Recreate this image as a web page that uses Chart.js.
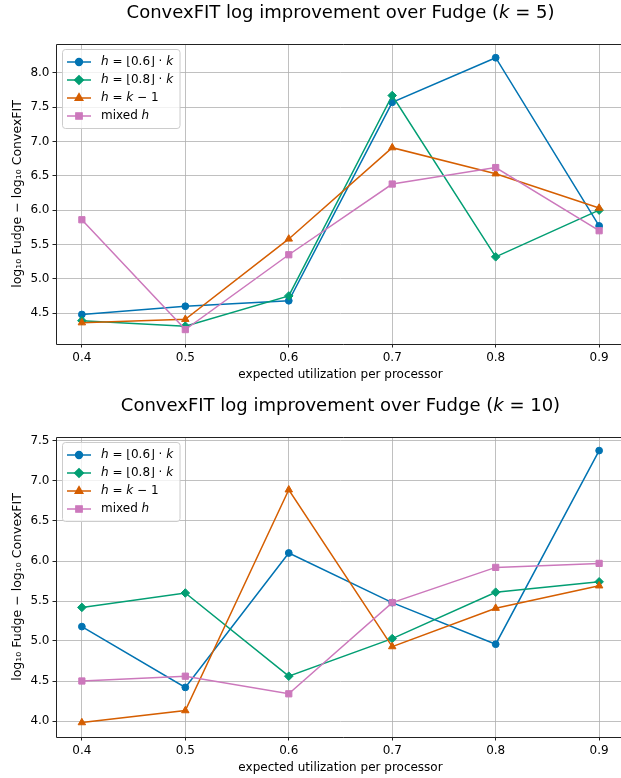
<!DOCTYPE html>
<html><head><meta charset="utf-8">
<script src="https://cdn.jsdelivr.net/npm/chart.js@4/dist/chart.umd.min.js"></script>
<style>
html,body{margin:0;padding:0;background:#fff;width:621px;height:778px;overflow:hidden;position:relative;}
.wrap{position:absolute;left:0;width:621px;height:389px;overflow:hidden;}
.wrap canvas{display:block;}
</style></head><body>
<div class="wrap" style="top:0"><canvas id="c1" width="640" height="389"></canvas></div>
<div class="wrap" style="top:393px;height:385px"><canvas id="c2" width="640" height="389"></canvas></div>
<script>
const xValues = [0.4, 0.5, 0.6, 0.7, 0.8, 0.9];
const xTicks = [0.4, 0.5, 0.6, 0.7, 0.8, 0.9];
const xTitle = 'expected utilization per processor';
const yTitle = 'log\u2081\u2080 Fudge \u2212 log\u2081\u2080 ConvexFIT';

// k = 5
const k5_h06   = [4.48, 4.60, 4.68, 7.57, 8.22, 5.77];
const k5_h08   = [4.39, 4.31, 4.75, 7.67, 5.32, 6.00];
const k5_hk1   = [4.36, 4.41, 5.58, 6.91, 6.53, 6.03];
const k5_mixed = [5.86, 4.26, 5.35, 6.38, 6.62, 5.70];
const k5_yTicks = [4.5, 5.0, 5.5, 6.0, 6.5, 7.0, 7.5, 8.0];

// k = 10
const k10_h06   = [5.18, 4.42, 6.10, 5.48, 4.96, 7.38];
const k10_h08   = [5.42, 5.60, 4.56, 5.03, 5.61, 5.74];
const k10_hk1   = [3.98, 4.13, 6.89, 4.93, 5.41, 5.69];
const k10_mixed = [4.50, 4.56, 4.34, 5.48, 5.92, 5.97];
const k10_yTicks = [4.0, 4.5, 5.0, 5.5, 6.0, 6.5, 7.0, 7.5];

const colors = ['#0173b2', '#029e73', '#d55e00', '#cc78bc'];
const markers = ['circle', 'rectRot', 'triangle', 'rect'];
const markerRadius = [3.4, 4.3, 4.3, 4.4];
// legend label parts: [text, italic]
const legendLabels = [
  [['h', true], [' = \u230A0.6\u230B \u00B7 ', false], ['k', true]],
  [['h', true], [' = \u230A0.8\u230B \u00B7 ', false], ['k', true]],
  [['h', true], [' = ', false], ['k', true], [' \u2212 1', false]],
  [['mixed ', false], ['h', true]]
];

const FAM = '"DejaVu Sans", sans-serif';

function richWidth(ctx, parts, size) {
  let w = 0;
  for (const p of parts) { ctx.font = (p[1] ? 'italic ' : '') + size + 'px ' + FAM; w += ctx.measureText(p[0]).width; }
  return w;
}
function drawRich(ctx, parts, x, y, size, center) {
  let cx = center ? x - richWidth(ctx, parts, size) / 2 : x;
  ctx.textBaseline = 'middle'; ctx.textAlign = 'left'; ctx.fillStyle = '#000';
  for (const p of parts) {
    ctx.font = (p[1] ? 'italic ' : '') + size + 'px ' + FAM;
    ctx.fillText(p[0], cx, y);
    cx += ctx.measureText(p[0]).width;
  }
}

function makeChart(id, series, yTicks, yMin, yMax, kText) {
  const overlay = {
    id: 'overlay',
    afterDraw(chart) {
      const ctx = chart.ctx, a = chart.chartArea;
      ctx.save();
      // spines: top, left, bottom (the right spine lies outside the visible window)
      ctx.strokeStyle = '#222'; ctx.lineWidth = 1;
      ctx.beginPath();
      ctx.moveTo(a.right + 5, a.top + 0.5); ctx.lineTo(a.left + 0.5, a.top + 0.5);
      ctx.lineTo(a.left + 0.5, a.bottom + 0.5); ctx.lineTo(a.right + 5, a.bottom + 0.5);
      ctx.stroke();
      // title
      drawRich(ctx, [['ConvexFIT log improvement over Fudge (', false], ['k', true], [' = ' + kText + ')', false]],
        (a.left + a.right) / 2, 13, 18, true);
      // legend
      const fs = 12, bx = a.left + 6, by = a.top + 5;
      let maxW = 0;
      legendLabels.forEach(l => { maxW = Math.max(maxW, richWidth(ctx, l, fs)); });
      const bw = 4.8 + 24 + 9.6 + maxW + 7, bh = 79;
      ctx.fillStyle = 'rgba(255,255,255,0.8)'; ctx.strokeStyle = '#cccccc'; ctx.lineWidth = 1;
      ctx.beginPath();
      ctx.roundRect(bx + 0.5, by + 0.5, bw, bh, 3);
      ctx.fill(); ctx.stroke();
      legendLabels.forEach((l, i) => {
        const ry = by + 13 + i * 18;
        const hx = bx + 5;
        ctx.strokeStyle = colors[i]; ctx.lineWidth = 1.5;
        ctx.beginPath(); ctx.moveTo(hx, ry); ctx.lineTo(hx + 24, ry); ctx.stroke();
        ctx.fillStyle = colors[i];
        Chart.helpers.drawPoint(ctx, { pointStyle: markers[i], radius: markerRadius[i], borderWidth: 1 }, hx + 12, ry);
        ctx.fill();
        drawRich(ctx, l, hx + 24 + 10, ry, fs, false);
      });
      ctx.restore();
    }
  };
  return new Chart(document.getElementById(id), {
    type: 'line',
    data: {
      datasets: series.map((s, i) => ({
        data: xValues.map((x, j) => ({ x: x, y: s[j] })),
        borderColor: colors[i],
        backgroundColor: colors[i],
        pointBackgroundColor: colors[i],
        pointBorderColor: colors[i],
        pointBorderWidth: 1,
        pointStyle: markers[i],
        pointRadius: markerRadius[i],
        borderWidth: 1.5,
        tension: 0,
        fill: false,
        order: 4 - i
      }))
    },
    options: {
      responsive: false,
      animation: false,
      devicePixelRatio: 1,
      layout: { padding: { top: 44, right: 15, left: 0, bottom: 0 } },
      plugins: { legend: { display: false }, title: { display: false }, tooltip: { enabled: false } },
      scales: {
        x: {
          type: 'linear', min: 0.375, max: 0.925,
          afterBuildTicks: sc => { sc.ticks = xTicks.map(v => ({ value: v })); },
          afterFit: sc => { sc.height = 45; },
          grid: { color: '#b0b0b0', lineWidth: 0.8, drawTicks: true, tickLength: 3.5, tickColor: '#222', tickWidth: 1 },
          border: { display: false },
          ticks: { color: '#000', font: { family: FAM, size: 12 }, padding: 3, maxRotation: 0, callback: v => v.toFixed(1) },
          title: { display: true, text: xTitle, color: '#000', font: { family: FAM, size: 12 }, padding: { top: 0, bottom: 7 } }
        },
        y: {
          type: 'linear', min: yMin, max: yMax,
          afterBuildTicks: sc => { sc.ticks = yTicks.map(v => ({ value: v })); },
          afterFit: sc => { sc.width = 56; },
          grid: { color: '#b0b0b0', lineWidth: 0.8, drawTicks: true, tickLength: 3.5, tickColor: '#222', tickWidth: 1 },
          border: { display: false },
          ticks: { color: '#000', font: { family: FAM, size: 12 }, padding: 3, callback: v => v.toFixed(1) },
          title: { display: true, text: yTitle, color: '#000', font: { family: FAM, size: 12.5 }, padding: { top: 10, bottom: 0 } }
        }
      }
    },
    plugins: [overlay]
  });
}

makeChart('c1', [k5_h06, k5_h08, k5_hk1, k5_mixed], k5_yTicks, 4.05, 8.42, '5');
makeChart('c2', [k10_h06, k10_h08, k10_hk1, k10_mixed], k10_yTicks, 3.8, 7.55, '10');
</script>
</body></html>
